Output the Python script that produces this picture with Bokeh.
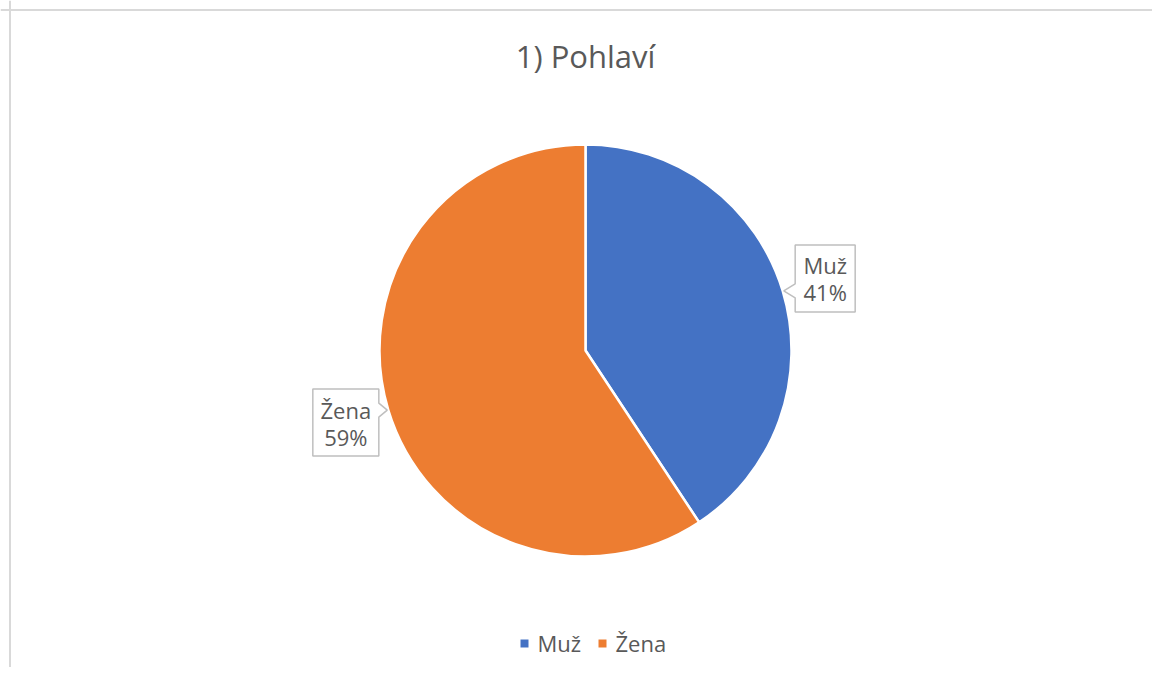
import math
from bokeh.plotting import figure
from bokeh.models import Range1d, Span
from bokeh.core.properties import value
from bokeh.embed import file_html
from bokeh.resources import INLINE

# ---- data ----
title_text = "1) Pohlaví"
categories = ["Muž", "Žena"]
values = [40.7, 59.3]
colors = ["#4472C4", "#ED7D31"]

FONT = "Open Sans"
TXT = "#595959"
W, H = 1152, 667

p = figure(width=W, height=H, output_backend="svg", toolbar_location=None,
           x_range=Range1d(0, W), y_range=Range1d(0, H),
           x_axis_type=None, y_axis_type=None, min_border=0,
           outline_line_color=None, background_fill_color="white",
           border_fill_color="white")
p.grid.visible = False

# chart-area border (only top and left visible in the crop)
p.add_layout(Span(location=H - 9.5, dimension="width", line_color="#D9D9D9", line_width=2))
p.add_layout(Span(location=9.5, dimension="height", line_color="#D9D9D9", line_width=2))

# ---- pie ----
cx, cy, r = 585, H - 350, 206
total = float(sum(values))
starts, ends, mids = [], [], []
cum = 0.0
for v in values:
    a0 = math.pi / 2 - 2 * math.pi * cum / total
    cum += v
    a1 = math.pi / 2 - 2 * math.pi * cum / total
    starts.append(a0)
    ends.append(a1)
    mids.append((a0 + a1) / 2)

p.wedge(x=[cx] * len(values), y=[cy] * len(values), radius=r,
        start_angle=starts, end_angle=ends, direction="clock",
        fill_color=colors, line_color="white", line_width=2.5)

# ---- title ----
p.text(x=[cx], y=[H - 55], text=[title_text], text_font=value(FONT),
       text_font_size="31px", text_color=TXT, text_align="center",
       text_baseline="middle")

# ---- data label callouts ----
box_w = {"Muž": 60, "Žena": 66}
box_h = 67
notch = 7
for cat, v, m in zip(categories, values, mids):
    dx, dy = math.cos(m), math.sin(m)
    bx, by = cx + 1.215 * r * dx, cy + 1.215 * r * dy
    tx, ty = cx + 1.005 * r * dx, cy + 1.005 * r * dy
    w = box_w.get(cat, 62)
    l, rr, t, b = bx - w / 2, bx + w / 2, by + box_h / 2, by - box_h / 2
    ny = min(max(ty, b + notch + 2), t - notch - 2)
    if dx > 0:
        xs = [l, rr, rr, l, l, tx, l]
        ys = [t, t, b, b, ny - notch, ty, ny + notch]
    else:
        xs = [l, rr, rr, tx, rr, rr, l]
        ys = [t, t, ny + notch, ty, ny - notch, b, b]
    p.patch(xs, ys, fill_color="white", line_color="#BFBFBF", line_width=1.5)
    pct = f"{round(100 * v / total)}%"
    p.text(x=[bx, bx], y=[by + 13, by - 14], text=[cat, pct],
           text_font=value(FONT), text_font_size="22px", text_color=TXT,
           text_align="center", text_baseline="middle")

# ---- legend ----
leg_y = H - 643
x = 524
for cat, c in zip(categories, colors):
    p.scatter(x=[x], y=[leg_y], marker="square", size=8, fill_color=c, line_color=None)
    p.text(x=[x + 13], y=[leg_y + 1], text=[cat], text_font=value(FONT),
           text_font_size="22px", text_color=TXT, text_align="left",
           text_baseline="middle")
    x += 13 + 11 * len(cat) + 32

open("out.html", "w").write(file_html(p, INLINE))
